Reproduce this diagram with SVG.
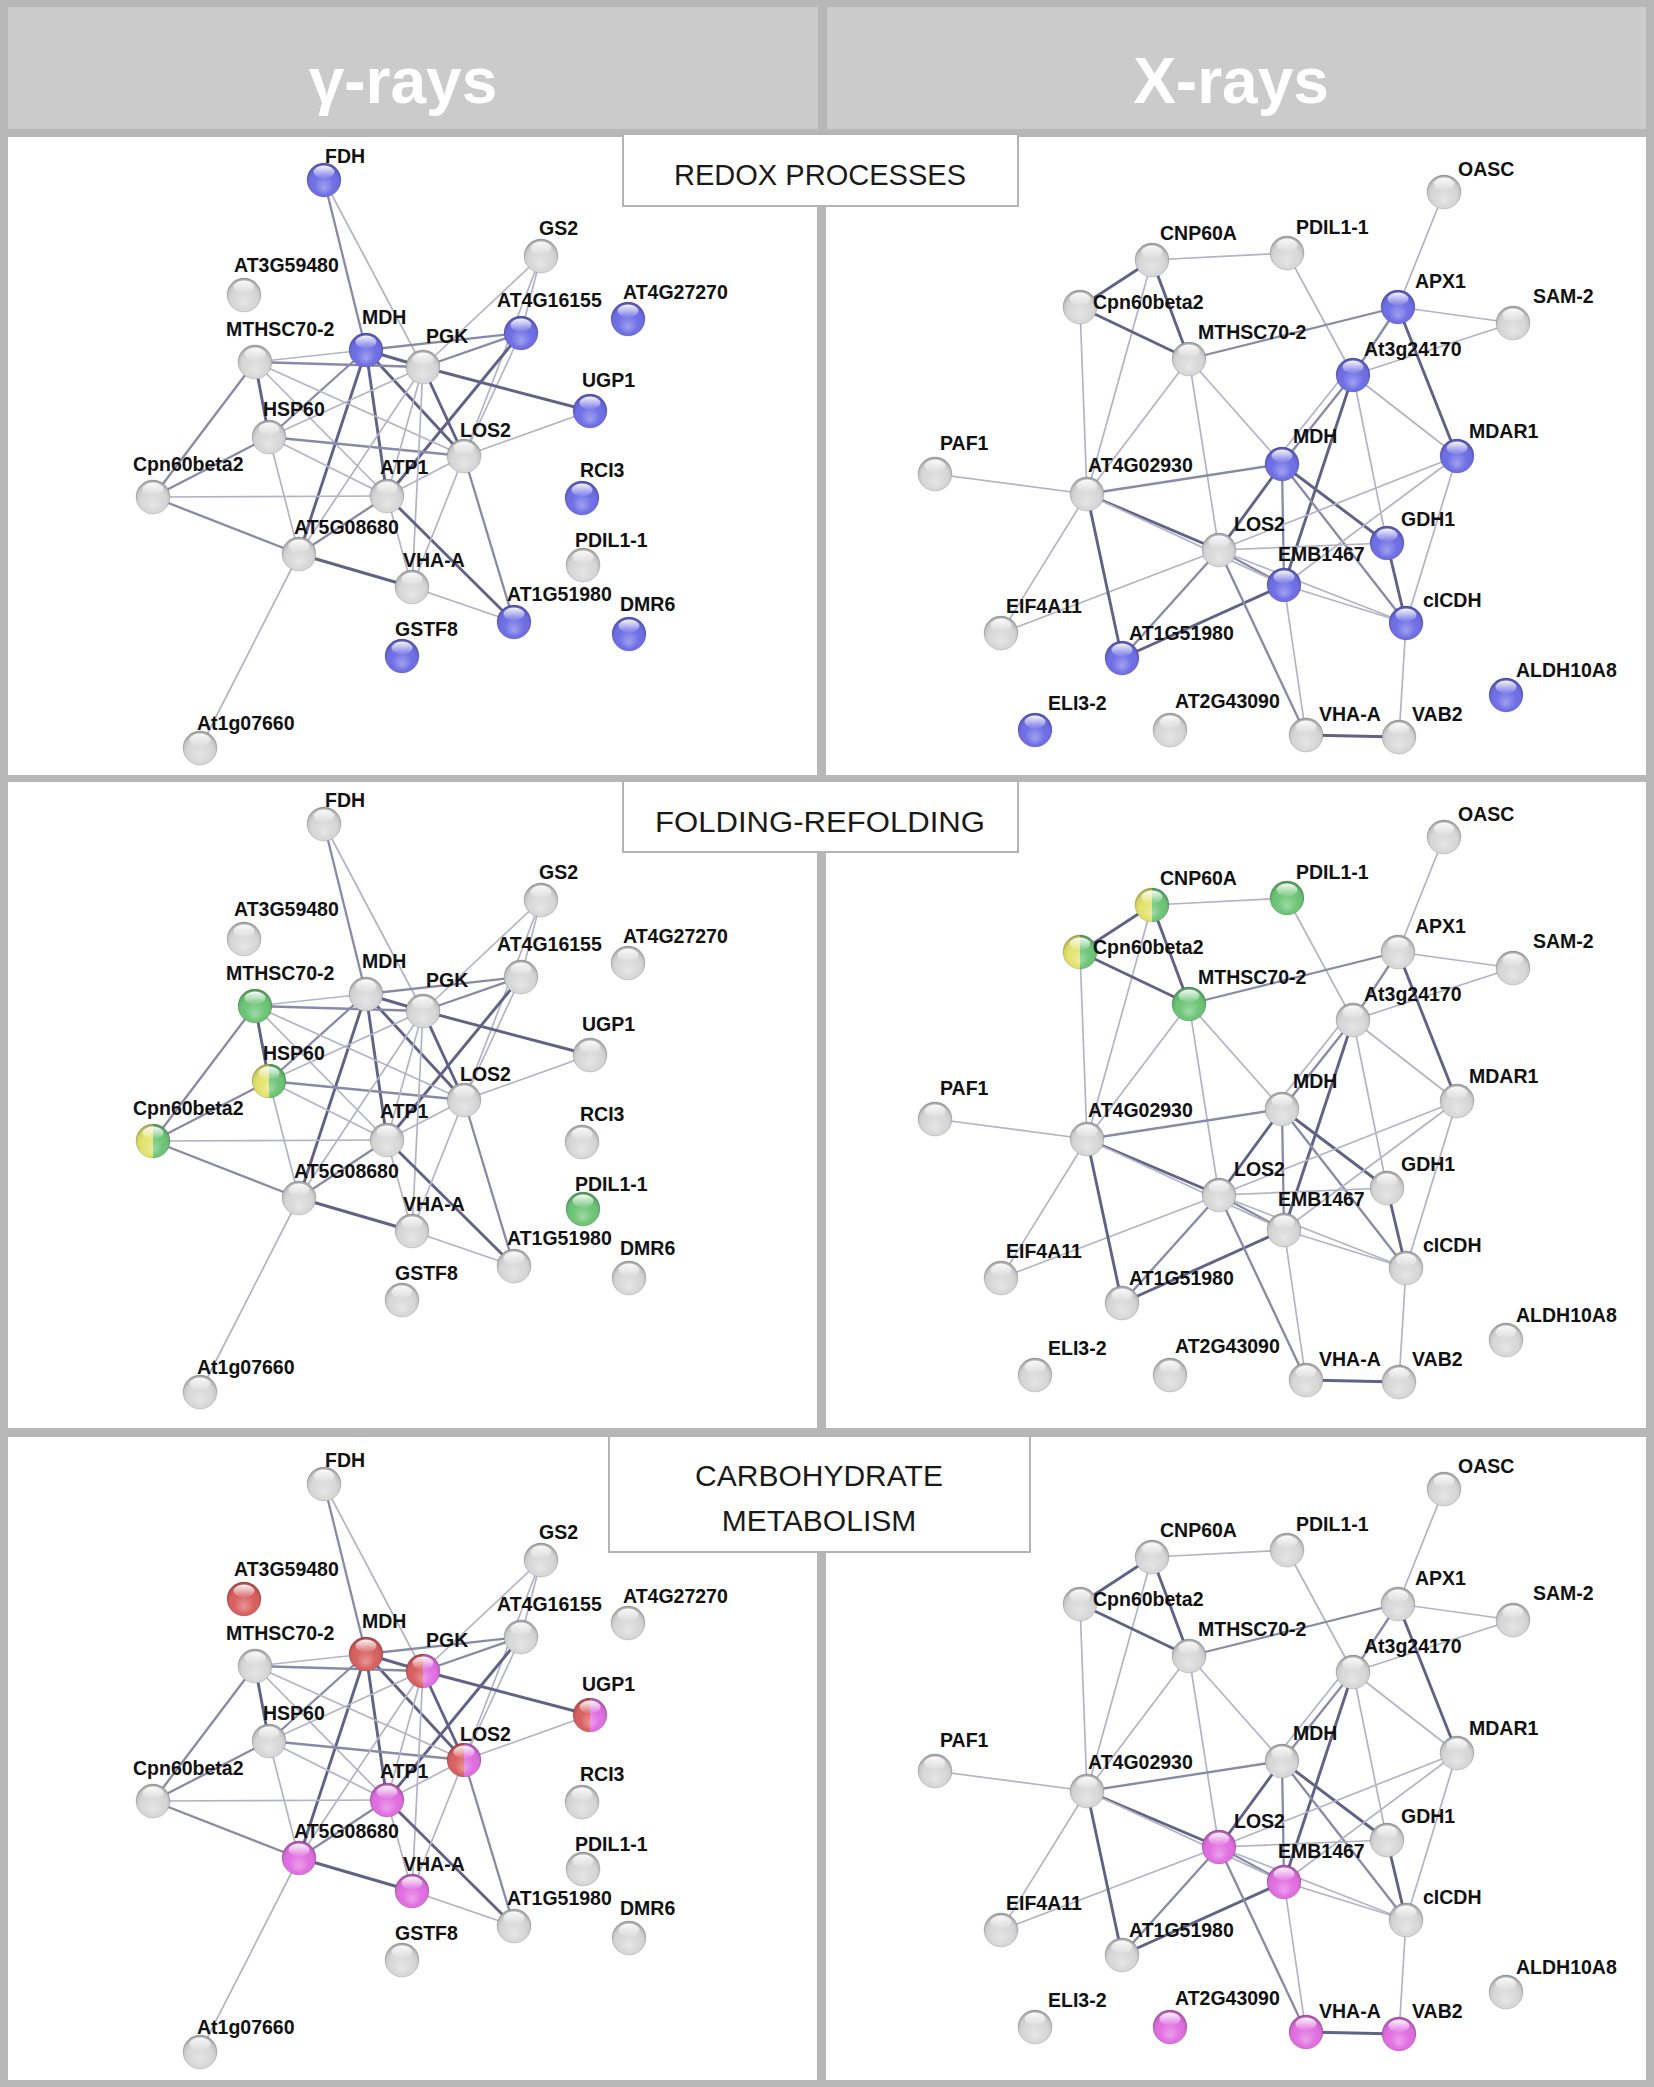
<svg xmlns="http://www.w3.org/2000/svg" xmlns:xlink="http://www.w3.org/1999/xlink" width="1654" height="2087" viewBox="0 0 1654 2087">
<style>
.hdr{font-family:"Liberation Sans",Arial,sans-serif;font-weight:bold;font-size:64px;fill:#ffffff;text-anchor:middle}
.box{fill:#ffffff;stroke:#b4b4b4;stroke-width:2}
.boxt{font-family:"Liberation Sans",Arial,sans-serif;font-size:30px;fill:#1a1a1a;text-anchor:middle}
.nodes text{font-family:"Liberation Sans",Arial,sans-serif;font-weight:bold;font-size:19.5px;fill:#111111}
.e1{stroke:#b3b3c7;stroke-width:1.7;stroke-linecap:round}
.e2{stroke:#8989a8;stroke-width:2.3;stroke-linecap:round}
.e3{stroke:#626287;stroke-width:2.9;stroke-linecap:round}
.cG{fill:#d8d8d8}.cB{fill:#6e6ee6}.cGr{fill:#6cc577}.cR{fill:#d95f5f}.cM{fill:#e16ee1}
.cYG{fill:url(#yg)}.cRM{fill:url(#rm)}
</style>
<defs>
<radialGradient id="shade" cx="0.5" cy="0.55" r="0.55" fx="0.5" fy="0.75">
<stop offset="0" stop-color="#ffffff" stop-opacity="0.35"/>
<stop offset="0.55" stop-color="#ffffff" stop-opacity="0"/>
<stop offset="0.85" stop-color="#000000" stop-opacity="0.08"/>
<stop offset="1" stop-color="#000000" stop-opacity="0.3"/>
</radialGradient>
<linearGradient id="gloss" x1="0" y1="0" x2="0" y2="1">
<stop offset="0" stop-color="#ffffff" stop-opacity="0.95"/>
<stop offset="1" stop-color="#ffffff" stop-opacity="0.05"/>
</linearGradient>
<linearGradient id="yg" x1="0" y1="0" x2="1" y2="0">
<stop offset="0" stop-color="#e3e36c"/><stop offset="0.5" stop-color="#e3e36c"/>
<stop offset="0.5" stop-color="#6cc577"/><stop offset="1" stop-color="#6cc577"/>
</linearGradient>
<linearGradient id="rm" x1="0" y1="0" x2="1" y2="0">
<stop offset="0" stop-color="#d95f5f"/><stop offset="0.5" stop-color="#d95f5f"/>
<stop offset="0.5" stop-color="#e16ee1"/><stop offset="1" stop-color="#e16ee1"/>
</linearGradient>
<g id="ball">
<circle r="17" fill="url(#shade)"/>
<ellipse cy="-8" rx="10.5" ry="6.5" fill="url(#gloss)"/>
<circle r="17" fill="none" stroke="#000000" stroke-opacity="0.12" stroke-width="1"/>
</g>
</defs>

<rect x="0" y="0" width="1654" height="2087" fill="#b7b7b7"/>
<g id="header">
<rect x="8" y="7" width="810" height="122" fill="#cbcbcb"/>
<rect x="827" y="7" width="819" height="122" fill="#cbcbcb"/>
<text class="hdr" x="403" y="103">γ-rays</text>
<text class="hdr" x="1231" y="103">X-rays</text>
</g>
<g id="panels">
<rect x="8" y="137" width="809" height="638" fill="#ffffff"/>
<rect x="826" y="137" width="820" height="638" fill="#ffffff"/>
<rect x="8" y="782" width="809" height="646" fill="#ffffff"/>
<rect x="826" y="782" width="820" height="646" fill="#ffffff"/>
<rect x="8" y="1437" width="809" height="643" fill="#ffffff"/>
<rect x="826" y="1437" width="820" height="643" fill="#ffffff"/>
</g>

<g id="connectors">
<g id="edges-gamma-redox">
<line class="e2" x1="324" y1="180" x2="366" y2="350"/>
<line class="e1" x1="324" y1="180" x2="423" y2="367"/>
<line class="e1" x1="541" y1="256" x2="423" y2="367"/>
<line class="e1" x1="541" y1="256" x2="521" y2="333"/>
<line class="e1" x1="541" y1="256" x2="464" y2="456"/>
<line class="e2" x1="521" y1="333" x2="366" y2="350"/>
<line class="e2" x1="521" y1="333" x2="423" y2="367"/>
<line class="e3" x1="521" y1="333" x2="387" y2="496"/>
<line class="e1" x1="521" y1="333" x2="464" y2="456"/>
<line class="e1" x1="366" y1="350" x2="255" y2="362"/>
<line class="e3" x1="366" y1="350" x2="423" y2="367"/>
<line class="e2" x1="366" y1="350" x2="269" y2="437"/>
<line class="e3" x1="366" y1="350" x2="387" y2="496"/>
<line class="e3" x1="366" y1="350" x2="299" y2="554"/>
<line class="e3" x1="366" y1="350" x2="464" y2="456"/>
<line class="e2" x1="255" y1="362" x2="423" y2="367"/>
<line class="e3" x1="255" y1="362" x2="269" y2="437"/>
<line class="e2" x1="255" y1="362" x2="153" y2="497"/>
<line class="e1" x1="255" y1="362" x2="387" y2="496"/>
<line class="e1" x1="255" y1="362" x2="464" y2="456"/>
<line class="e1" x1="269" y1="437" x2="423" y2="367"/>
<line class="e2" x1="269" y1="437" x2="464" y2="456"/>
<line class="e2" x1="269" y1="437" x2="153" y2="497"/>
<line class="e1" x1="269" y1="437" x2="299" y2="554"/>
<line class="e1" x1="269" y1="437" x2="387" y2="496"/>
<line class="e1" x1="153" y1="497" x2="387" y2="496"/>
<line class="e2" x1="153" y1="497" x2="299" y2="554"/>
<line class="e1" x1="423" y1="367" x2="387" y2="496"/>
<line class="e1" x1="423" y1="367" x2="299" y2="554"/>
<line class="e1" x1="423" y1="367" x2="412" y2="587"/>
<line class="e3" x1="423" y1="367" x2="464" y2="456"/>
<line class="e3" x1="423" y1="367" x2="590" y2="411"/>
<line class="e2" x1="387" y1="496" x2="299" y2="554"/>
<line class="e3" x1="387" y1="496" x2="514" y2="622"/>
<line class="e1" x1="387" y1="496" x2="464" y2="456"/>
<line class="e1" x1="387" y1="496" x2="412" y2="587"/>
<line class="e3" x1="299" y1="554" x2="412" y2="587"/>
<line class="e1" x1="299" y1="554" x2="200" y2="748"/>
<line class="e1" x1="412" y1="587" x2="464" y2="456"/>
<line class="e1" x1="412" y1="587" x2="514" y2="622"/>
<line class="e1" x1="464" y1="456" x2="590" y2="411"/>
<line class="e2" x1="464" y1="456" x2="514" y2="622"/>
</g>
<g id="edges-gamma-folding" transform="translate(0,644)">
<line class="e2" x1="324" y1="180" x2="366" y2="350"/>
<line class="e1" x1="324" y1="180" x2="423" y2="367"/>
<line class="e1" x1="541" y1="256" x2="423" y2="367"/>
<line class="e1" x1="541" y1="256" x2="521" y2="333"/>
<line class="e1" x1="541" y1="256" x2="464" y2="456"/>
<line class="e2" x1="521" y1="333" x2="366" y2="350"/>
<line class="e2" x1="521" y1="333" x2="423" y2="367"/>
<line class="e3" x1="521" y1="333" x2="387" y2="496"/>
<line class="e1" x1="521" y1="333" x2="464" y2="456"/>
<line class="e1" x1="366" y1="350" x2="255" y2="362"/>
<line class="e3" x1="366" y1="350" x2="423" y2="367"/>
<line class="e2" x1="366" y1="350" x2="269" y2="437"/>
<line class="e3" x1="366" y1="350" x2="387" y2="496"/>
<line class="e3" x1="366" y1="350" x2="299" y2="554"/>
<line class="e3" x1="366" y1="350" x2="464" y2="456"/>
<line class="e2" x1="255" y1="362" x2="423" y2="367"/>
<line class="e3" x1="255" y1="362" x2="269" y2="437"/>
<line class="e2" x1="255" y1="362" x2="153" y2="497"/>
<line class="e1" x1="255" y1="362" x2="387" y2="496"/>
<line class="e1" x1="255" y1="362" x2="464" y2="456"/>
<line class="e1" x1="269" y1="437" x2="423" y2="367"/>
<line class="e2" x1="269" y1="437" x2="464" y2="456"/>
<line class="e2" x1="269" y1="437" x2="153" y2="497"/>
<line class="e1" x1="269" y1="437" x2="299" y2="554"/>
<line class="e1" x1="269" y1="437" x2="387" y2="496"/>
<line class="e1" x1="153" y1="497" x2="387" y2="496"/>
<line class="e2" x1="153" y1="497" x2="299" y2="554"/>
<line class="e1" x1="423" y1="367" x2="387" y2="496"/>
<line class="e1" x1="423" y1="367" x2="299" y2="554"/>
<line class="e1" x1="423" y1="367" x2="412" y2="587"/>
<line class="e3" x1="423" y1="367" x2="464" y2="456"/>
<line class="e3" x1="423" y1="367" x2="590" y2="411"/>
<line class="e2" x1="387" y1="496" x2="299" y2="554"/>
<line class="e3" x1="387" y1="496" x2="514" y2="622"/>
<line class="e1" x1="387" y1="496" x2="464" y2="456"/>
<line class="e1" x1="387" y1="496" x2="412" y2="587"/>
<line class="e3" x1="299" y1="554" x2="412" y2="587"/>
<line class="e1" x1="299" y1="554" x2="200" y2="748"/>
<line class="e1" x1="412" y1="587" x2="464" y2="456"/>
<line class="e1" x1="412" y1="587" x2="514" y2="622"/>
<line class="e1" x1="464" y1="456" x2="590" y2="411"/>
<line class="e2" x1="464" y1="456" x2="514" y2="622"/>
</g>
<g id="edges-gamma-carbo" transform="translate(0,1304)">
<line class="e2" x1="324" y1="180" x2="366" y2="350"/>
<line class="e1" x1="324" y1="180" x2="423" y2="367"/>
<line class="e1" x1="541" y1="256" x2="423" y2="367"/>
<line class="e1" x1="541" y1="256" x2="521" y2="333"/>
<line class="e1" x1="541" y1="256" x2="464" y2="456"/>
<line class="e2" x1="521" y1="333" x2="366" y2="350"/>
<line class="e2" x1="521" y1="333" x2="423" y2="367"/>
<line class="e3" x1="521" y1="333" x2="387" y2="496"/>
<line class="e1" x1="521" y1="333" x2="464" y2="456"/>
<line class="e1" x1="366" y1="350" x2="255" y2="362"/>
<line class="e3" x1="366" y1="350" x2="423" y2="367"/>
<line class="e2" x1="366" y1="350" x2="269" y2="437"/>
<line class="e3" x1="366" y1="350" x2="387" y2="496"/>
<line class="e3" x1="366" y1="350" x2="299" y2="554"/>
<line class="e3" x1="366" y1="350" x2="464" y2="456"/>
<line class="e2" x1="255" y1="362" x2="423" y2="367"/>
<line class="e3" x1="255" y1="362" x2="269" y2="437"/>
<line class="e2" x1="255" y1="362" x2="153" y2="497"/>
<line class="e1" x1="255" y1="362" x2="387" y2="496"/>
<line class="e1" x1="255" y1="362" x2="464" y2="456"/>
<line class="e1" x1="269" y1="437" x2="423" y2="367"/>
<line class="e2" x1="269" y1="437" x2="464" y2="456"/>
<line class="e2" x1="269" y1="437" x2="153" y2="497"/>
<line class="e1" x1="269" y1="437" x2="299" y2="554"/>
<line class="e1" x1="269" y1="437" x2="387" y2="496"/>
<line class="e1" x1="153" y1="497" x2="387" y2="496"/>
<line class="e2" x1="153" y1="497" x2="299" y2="554"/>
<line class="e1" x1="423" y1="367" x2="387" y2="496"/>
<line class="e1" x1="423" y1="367" x2="299" y2="554"/>
<line class="e1" x1="423" y1="367" x2="412" y2="587"/>
<line class="e3" x1="423" y1="367" x2="464" y2="456"/>
<line class="e3" x1="423" y1="367" x2="590" y2="411"/>
<line class="e2" x1="387" y1="496" x2="299" y2="554"/>
<line class="e3" x1="387" y1="496" x2="514" y2="622"/>
<line class="e1" x1="387" y1="496" x2="464" y2="456"/>
<line class="e1" x1="387" y1="496" x2="412" y2="587"/>
<line class="e3" x1="299" y1="554" x2="412" y2="587"/>
<line class="e1" x1="299" y1="554" x2="200" y2="748"/>
<line class="e1" x1="412" y1="587" x2="464" y2="456"/>
<line class="e1" x1="412" y1="587" x2="514" y2="622"/>
<line class="e1" x1="464" y1="456" x2="590" y2="411"/>
<line class="e2" x1="464" y1="456" x2="514" y2="622"/>
</g>
<g id="edges-x-redox">
<line class="e1" x1="1444" y1="192" x2="1398" y2="307"/>
<line class="e1" x1="1152" y1="260" x2="1287" y2="253"/>
<line class="e3" x1="1152" y1="260" x2="1080" y2="307"/>
<line class="e3" x1="1152" y1="260" x2="1189" y2="359"/>
<line class="e1" x1="1152" y1="260" x2="1087" y2="494"/>
<line class="e3" x1="1080" y1="307" x2="1189" y2="359"/>
<line class="e1" x1="1080" y1="307" x2="1087" y2="494"/>
<line class="e1" x1="1287" y1="253" x2="1353" y2="375"/>
<line class="e2" x1="1189" y1="359" x2="1398" y2="307"/>
<line class="e1" x1="1189" y1="359" x2="1087" y2="494"/>
<line class="e1" x1="1189" y1="359" x2="1219" y2="550"/>
<line class="e1" x1="1189" y1="359" x2="1282" y2="464"/>
<line class="e1" x1="1398" y1="307" x2="1513" y2="323"/>
<line class="e2" x1="1398" y1="307" x2="1353" y2="375"/>
<line class="e3" x1="1398" y1="307" x2="1457" y2="456"/>
<line class="e1" x1="1513" y1="323" x2="1353" y2="375"/>
<line class="e2" x1="1353" y1="375" x2="1282" y2="464"/>
<line class="e1" x1="1347" y1="371" x2="1276" y2="460"/>
<line class="e3" x1="1353" y1="375" x2="1284" y2="585"/>
<line class="e1" x1="1353" y1="375" x2="1387" y2="543"/>
<line class="e1" x1="1353" y1="375" x2="1457" y2="456"/>
<line class="e2" x1="1282" y1="464" x2="1087" y2="494"/>
<line class="e3" x1="1282" y1="464" x2="1219" y2="550"/>
<line class="e2" x1="1282" y1="464" x2="1284" y2="585"/>
<line class="e3" x1="1282" y1="464" x2="1387" y2="543"/>
<line class="e2" x1="1282" y1="464" x2="1406" y2="623"/>
<line class="e1" x1="1457" y1="456" x2="1219" y2="550"/>
<line class="e1" x1="1457" y1="456" x2="1284" y2="585"/>
<line class="e1" x1="1457" y1="456" x2="1406" y2="623"/>
<line class="e3" x1="1387" y1="543" x2="1406" y2="623"/>
<line class="e1" x1="1387" y1="543" x2="1219" y2="550"/>
<line class="e2" x1="1284" y1="585" x2="1219" y2="550"/>
<line class="e1" x1="1284" y1="585" x2="1406" y2="623"/>
<line class="e3" x1="1284" y1="585" x2="1122" y2="658"/>
<line class="e1" x1="1284" y1="585" x2="1306" y2="735"/>
<line class="e1" x1="1219" y1="550" x2="1406" y2="623"/>
<line class="e3" x1="1219" y1="550" x2="1087" y2="494"/>
<line class="e2" x1="1219" y1="550" x2="1122" y2="658"/>
<line class="e1" x1="1219" y1="550" x2="1001" y2="633"/>
<line class="e2" x1="1219" y1="550" x2="1306" y2="735"/>
<line class="e1" x1="1087" y1="494" x2="935" y2="474"/>
<line class="e1" x1="1087" y1="494" x2="1001" y2="633"/>
<line class="e3" x1="1087" y1="494" x2="1122" y2="658"/>
<line class="e1" x1="1087" y1="494" x2="1284" y2="585"/>
<line class="e1" x1="1406" y1="623" x2="1399" y2="737"/>
<line class="e3" x1="1306" y1="735" x2="1399" y2="737"/>
</g>
<g id="edges-x-folding" transform="translate(0,645)">
<line class="e1" x1="1444" y1="192" x2="1398" y2="307"/>
<line class="e1" x1="1152" y1="260" x2="1287" y2="253"/>
<line class="e3" x1="1152" y1="260" x2="1080" y2="307"/>
<line class="e3" x1="1152" y1="260" x2="1189" y2="359"/>
<line class="e1" x1="1152" y1="260" x2="1087" y2="494"/>
<line class="e3" x1="1080" y1="307" x2="1189" y2="359"/>
<line class="e1" x1="1080" y1="307" x2="1087" y2="494"/>
<line class="e1" x1="1287" y1="253" x2="1353" y2="375"/>
<line class="e2" x1="1189" y1="359" x2="1398" y2="307"/>
<line class="e1" x1="1189" y1="359" x2="1087" y2="494"/>
<line class="e1" x1="1189" y1="359" x2="1219" y2="550"/>
<line class="e1" x1="1189" y1="359" x2="1282" y2="464"/>
<line class="e1" x1="1398" y1="307" x2="1513" y2="323"/>
<line class="e2" x1="1398" y1="307" x2="1353" y2="375"/>
<line class="e3" x1="1398" y1="307" x2="1457" y2="456"/>
<line class="e1" x1="1513" y1="323" x2="1353" y2="375"/>
<line class="e2" x1="1353" y1="375" x2="1282" y2="464"/>
<line class="e1" x1="1347" y1="371" x2="1276" y2="460"/>
<line class="e3" x1="1353" y1="375" x2="1284" y2="585"/>
<line class="e1" x1="1353" y1="375" x2="1387" y2="543"/>
<line class="e1" x1="1353" y1="375" x2="1457" y2="456"/>
<line class="e2" x1="1282" y1="464" x2="1087" y2="494"/>
<line class="e3" x1="1282" y1="464" x2="1219" y2="550"/>
<line class="e2" x1="1282" y1="464" x2="1284" y2="585"/>
<line class="e3" x1="1282" y1="464" x2="1387" y2="543"/>
<line class="e2" x1="1282" y1="464" x2="1406" y2="623"/>
<line class="e1" x1="1457" y1="456" x2="1219" y2="550"/>
<line class="e1" x1="1457" y1="456" x2="1284" y2="585"/>
<line class="e1" x1="1457" y1="456" x2="1406" y2="623"/>
<line class="e3" x1="1387" y1="543" x2="1406" y2="623"/>
<line class="e1" x1="1387" y1="543" x2="1219" y2="550"/>
<line class="e2" x1="1284" y1="585" x2="1219" y2="550"/>
<line class="e1" x1="1284" y1="585" x2="1406" y2="623"/>
<line class="e3" x1="1284" y1="585" x2="1122" y2="658"/>
<line class="e1" x1="1284" y1="585" x2="1306" y2="735"/>
<line class="e1" x1="1219" y1="550" x2="1406" y2="623"/>
<line class="e3" x1="1219" y1="550" x2="1087" y2="494"/>
<line class="e2" x1="1219" y1="550" x2="1122" y2="658"/>
<line class="e1" x1="1219" y1="550" x2="1001" y2="633"/>
<line class="e2" x1="1219" y1="550" x2="1306" y2="735"/>
<line class="e1" x1="1087" y1="494" x2="935" y2="474"/>
<line class="e1" x1="1087" y1="494" x2="1001" y2="633"/>
<line class="e3" x1="1087" y1="494" x2="1122" y2="658"/>
<line class="e1" x1="1087" y1="494" x2="1284" y2="585"/>
<line class="e1" x1="1406" y1="623" x2="1399" y2="737"/>
<line class="e3" x1="1306" y1="735" x2="1399" y2="737"/>
</g>
<g id="edges-x-carbo" transform="translate(0,1297)">
<line class="e1" x1="1444" y1="192" x2="1398" y2="307"/>
<line class="e1" x1="1152" y1="260" x2="1287" y2="253"/>
<line class="e3" x1="1152" y1="260" x2="1080" y2="307"/>
<line class="e3" x1="1152" y1="260" x2="1189" y2="359"/>
<line class="e1" x1="1152" y1="260" x2="1087" y2="494"/>
<line class="e3" x1="1080" y1="307" x2="1189" y2="359"/>
<line class="e1" x1="1080" y1="307" x2="1087" y2="494"/>
<line class="e1" x1="1287" y1="253" x2="1353" y2="375"/>
<line class="e2" x1="1189" y1="359" x2="1398" y2="307"/>
<line class="e1" x1="1189" y1="359" x2="1087" y2="494"/>
<line class="e1" x1="1189" y1="359" x2="1219" y2="550"/>
<line class="e1" x1="1189" y1="359" x2="1282" y2="464"/>
<line class="e1" x1="1398" y1="307" x2="1513" y2="323"/>
<line class="e2" x1="1398" y1="307" x2="1353" y2="375"/>
<line class="e3" x1="1398" y1="307" x2="1457" y2="456"/>
<line class="e1" x1="1513" y1="323" x2="1353" y2="375"/>
<line class="e2" x1="1353" y1="375" x2="1282" y2="464"/>
<line class="e1" x1="1347" y1="371" x2="1276" y2="460"/>
<line class="e3" x1="1353" y1="375" x2="1284" y2="585"/>
<line class="e1" x1="1353" y1="375" x2="1387" y2="543"/>
<line class="e1" x1="1353" y1="375" x2="1457" y2="456"/>
<line class="e2" x1="1282" y1="464" x2="1087" y2="494"/>
<line class="e3" x1="1282" y1="464" x2="1219" y2="550"/>
<line class="e2" x1="1282" y1="464" x2="1284" y2="585"/>
<line class="e3" x1="1282" y1="464" x2="1387" y2="543"/>
<line class="e2" x1="1282" y1="464" x2="1406" y2="623"/>
<line class="e1" x1="1457" y1="456" x2="1219" y2="550"/>
<line class="e1" x1="1457" y1="456" x2="1284" y2="585"/>
<line class="e1" x1="1457" y1="456" x2="1406" y2="623"/>
<line class="e3" x1="1387" y1="543" x2="1406" y2="623"/>
<line class="e1" x1="1387" y1="543" x2="1219" y2="550"/>
<line class="e2" x1="1284" y1="585" x2="1219" y2="550"/>
<line class="e1" x1="1284" y1="585" x2="1406" y2="623"/>
<line class="e3" x1="1284" y1="585" x2="1122" y2="658"/>
<line class="e1" x1="1284" y1="585" x2="1306" y2="735"/>
<line class="e1" x1="1219" y1="550" x2="1406" y2="623"/>
<line class="e3" x1="1219" y1="550" x2="1087" y2="494"/>
<line class="e2" x1="1219" y1="550" x2="1122" y2="658"/>
<line class="e1" x1="1219" y1="550" x2="1001" y2="633"/>
<line class="e2" x1="1219" y1="550" x2="1306" y2="735"/>
<line class="e1" x1="1087" y1="494" x2="935" y2="474"/>
<line class="e1" x1="1087" y1="494" x2="1001" y2="633"/>
<line class="e3" x1="1087" y1="494" x2="1122" y2="658"/>
<line class="e1" x1="1087" y1="494" x2="1284" y2="585"/>
<line class="e1" x1="1406" y1="623" x2="1399" y2="737"/>
<line class="e3" x1="1306" y1="735" x2="1399" y2="737"/>
</g>
</g>

<g id="nodes-gamma-redox" class="nodes">
<g id="gR-FDH"><circle cx="324" cy="180" r="17" class="cB"/><use href="#ball" x="324" y="180"/><text x="325" y="163">FDH</text></g>
<g id="gR-AT3G59480"><circle cx="244" cy="295" r="17" class="cG"/><use href="#ball" x="244" y="295"/><text x="234" y="272">AT3G59480</text></g>
<g id="gR-GS2"><circle cx="541" cy="256" r="17" class="cG"/><use href="#ball" x="541" y="256"/><text x="539" y="235">GS2</text></g>
<g id="gR-AT4G27270"><circle cx="628" cy="319" r="17" class="cB"/><use href="#ball" x="628" y="319"/><text x="623" y="299">AT4G27270</text></g>
<g id="gR-AT4G16155"><circle cx="521" cy="333" r="17" class="cB"/><use href="#ball" x="521" y="333"/><text x="497" y="307">AT4G16155</text></g>
<g id="gR-MDH"><circle cx="366" cy="350" r="17" class="cB"/><use href="#ball" x="366" y="350"/><text x="362" y="324">MDH</text></g>
<g id="gR-MTHSC70-2"><circle cx="255" cy="362" r="17" class="cG"/><use href="#ball" x="255" y="362"/><text x="226" y="336">MTHSC70-2</text></g>
<g id="gR-PGK"><circle cx="423" cy="367" r="17" class="cG"/><use href="#ball" x="423" y="367"/><text x="426" y="343">PGK</text></g>
<g id="gR-UGP1"><circle cx="590" cy="411" r="17" class="cB"/><use href="#ball" x="590" y="411"/><text x="582" y="387">UGP1</text></g>
<g id="gR-HSP60"><circle cx="269" cy="437" r="17" class="cG"/><use href="#ball" x="269" y="437"/><text x="263" y="416">HSP60</text></g>
<g id="gR-LOS2"><circle cx="464" cy="456" r="17" class="cG"/><use href="#ball" x="464" y="456"/><text x="460" y="437">LOS2</text></g>
<g id="gR-RCI3"><circle cx="582" cy="498" r="17" class="cB"/><use href="#ball" x="582" y="498"/><text x="580" y="477">RCI3</text></g>
<g id="gR-Cpn60beta2"><circle cx="153" cy="497" r="17" class="cG"/><use href="#ball" x="153" y="497"/><text x="133" y="471">Cpn60beta2</text></g>
<g id="gR-ATP1"><circle cx="387" cy="496" r="17" class="cG"/><use href="#ball" x="387" y="496"/><text x="380" y="474">ATP1</text></g>
<g id="gR-AT5G08680"><circle cx="299" cy="554" r="17" class="cG"/><use href="#ball" x="299" y="554"/><text x="294" y="534">AT5G08680</text></g>
<g id="gR-PDIL1-1"><circle cx="583" cy="565" r="17" class="cG"/><use href="#ball" x="583" y="565"/><text x="575" y="547">PDIL1-1</text></g>
<g id="gR-VHA-A"><circle cx="412" cy="587" r="17" class="cG"/><use href="#ball" x="412" y="587"/><text x="403" y="567">VHA-A</text></g>
<g id="gR-AT1G51980"><circle cx="514" cy="622" r="17" class="cB"/><use href="#ball" x="514" y="622"/><text x="507" y="601">AT1G51980</text></g>
<g id="gR-DMR6"><circle cx="629" cy="634" r="17" class="cB"/><use href="#ball" x="629" y="634"/><text x="620" y="611">DMR6</text></g>
<g id="gR-GSTF8"><circle cx="402" cy="656" r="17" class="cB"/><use href="#ball" x="402" y="656"/><text x="395" y="636">GSTF8</text></g>
<g id="gR-At1g07660"><circle cx="200" cy="748" r="17" class="cG"/><use href="#ball" x="200" y="748"/><text x="197" y="730">At1g07660</text></g>
</g>

<g id="nodes-gamma-folding" class="nodes" transform="translate(0,644)">
<g id="gF-FDH"><circle cx="324" cy="180" r="17" class="cG"/><use href="#ball" x="324" y="180"/><text x="325" y="163">FDH</text></g>
<g id="gF-AT3G59480"><circle cx="244" cy="295" r="17" class="cG"/><use href="#ball" x="244" y="295"/><text x="234" y="272">AT3G59480</text></g>
<g id="gF-GS2"><circle cx="541" cy="256" r="17" class="cG"/><use href="#ball" x="541" y="256"/><text x="539" y="235">GS2</text></g>
<g id="gF-AT4G27270"><circle cx="628" cy="319" r="17" class="cG"/><use href="#ball" x="628" y="319"/><text x="623" y="299">AT4G27270</text></g>
<g id="gF-AT4G16155"><circle cx="521" cy="333" r="17" class="cG"/><use href="#ball" x="521" y="333"/><text x="497" y="307">AT4G16155</text></g>
<g id="gF-MDH"><circle cx="366" cy="350" r="17" class="cG"/><use href="#ball" x="366" y="350"/><text x="362" y="324">MDH</text></g>
<g id="gF-MTHSC70-2"><circle cx="255" cy="362" r="17" class="cGr"/><use href="#ball" x="255" y="362"/><text x="226" y="336">MTHSC70-2</text></g>
<g id="gF-PGK"><circle cx="423" cy="367" r="17" class="cG"/><use href="#ball" x="423" y="367"/><text x="426" y="343">PGK</text></g>
<g id="gF-UGP1"><circle cx="590" cy="411" r="17" class="cG"/><use href="#ball" x="590" y="411"/><text x="582" y="387">UGP1</text></g>
<g id="gF-HSP60"><circle cx="269" cy="437" r="17" class="cYG"/><use href="#ball" x="269" y="437"/><text x="263" y="416">HSP60</text></g>
<g id="gF-LOS2"><circle cx="464" cy="456" r="17" class="cG"/><use href="#ball" x="464" y="456"/><text x="460" y="437">LOS2</text></g>
<g id="gF-RCI3"><circle cx="582" cy="498" r="17" class="cG"/><use href="#ball" x="582" y="498"/><text x="580" y="477">RCI3</text></g>
<g id="gF-Cpn60beta2"><circle cx="153" cy="497" r="17" class="cYG"/><use href="#ball" x="153" y="497"/><text x="133" y="471">Cpn60beta2</text></g>
<g id="gF-ATP1"><circle cx="387" cy="496" r="17" class="cG"/><use href="#ball" x="387" y="496"/><text x="380" y="474">ATP1</text></g>
<g id="gF-AT5G08680"><circle cx="299" cy="554" r="17" class="cG"/><use href="#ball" x="299" y="554"/><text x="294" y="534">AT5G08680</text></g>
<g id="gF-PDIL1-1"><circle cx="583" cy="565" r="17" class="cGr"/><use href="#ball" x="583" y="565"/><text x="575" y="547">PDIL1-1</text></g>
<g id="gF-VHA-A"><circle cx="412" cy="587" r="17" class="cG"/><use href="#ball" x="412" y="587"/><text x="403" y="567">VHA-A</text></g>
<g id="gF-AT1G51980"><circle cx="514" cy="622" r="17" class="cG"/><use href="#ball" x="514" y="622"/><text x="507" y="601">AT1G51980</text></g>
<g id="gF-DMR6"><circle cx="629" cy="634" r="17" class="cG"/><use href="#ball" x="629" y="634"/><text x="620" y="611">DMR6</text></g>
<g id="gF-GSTF8"><circle cx="402" cy="656" r="17" class="cG"/><use href="#ball" x="402" y="656"/><text x="395" y="636">GSTF8</text></g>
<g id="gF-At1g07660"><circle cx="200" cy="748" r="17" class="cG"/><use href="#ball" x="200" y="748"/><text x="197" y="730">At1g07660</text></g>
</g>

<g id="nodes-gamma-carbo" class="nodes" transform="translate(0,1304)">
<g id="gC-FDH"><circle cx="324" cy="180" r="17" class="cG"/><use href="#ball" x="324" y="180"/><text x="325" y="163">FDH</text></g>
<g id="gC-AT3G59480"><circle cx="244" cy="295" r="17" class="cR"/><use href="#ball" x="244" y="295"/><text x="234" y="272">AT3G59480</text></g>
<g id="gC-GS2"><circle cx="541" cy="256" r="17" class="cG"/><use href="#ball" x="541" y="256"/><text x="539" y="235">GS2</text></g>
<g id="gC-AT4G27270"><circle cx="628" cy="319" r="17" class="cG"/><use href="#ball" x="628" y="319"/><text x="623" y="299">AT4G27270</text></g>
<g id="gC-AT4G16155"><circle cx="521" cy="333" r="17" class="cG"/><use href="#ball" x="521" y="333"/><text x="497" y="307">AT4G16155</text></g>
<g id="gC-MDH"><circle cx="366" cy="350" r="17" class="cR"/><use href="#ball" x="366" y="350"/><text x="362" y="324">MDH</text></g>
<g id="gC-MTHSC70-2"><circle cx="255" cy="362" r="17" class="cG"/><use href="#ball" x="255" y="362"/><text x="226" y="336">MTHSC70-2</text></g>
<g id="gC-PGK"><circle cx="423" cy="367" r="17" class="cRM"/><use href="#ball" x="423" y="367"/><text x="426" y="343">PGK</text></g>
<g id="gC-UGP1"><circle cx="590" cy="411" r="17" class="cRM"/><use href="#ball" x="590" y="411"/><text x="582" y="387">UGP1</text></g>
<g id="gC-HSP60"><circle cx="269" cy="437" r="17" class="cG"/><use href="#ball" x="269" y="437"/><text x="263" y="416">HSP60</text></g>
<g id="gC-LOS2"><circle cx="464" cy="456" r="17" class="cRM"/><use href="#ball" x="464" y="456"/><text x="460" y="437">LOS2</text></g>
<g id="gC-RCI3"><circle cx="582" cy="498" r="17" class="cG"/><use href="#ball" x="582" y="498"/><text x="580" y="477">RCI3</text></g>
<g id="gC-Cpn60beta2"><circle cx="153" cy="497" r="17" class="cG"/><use href="#ball" x="153" y="497"/><text x="133" y="471">Cpn60beta2</text></g>
<g id="gC-ATP1"><circle cx="387" cy="496" r="17" class="cM"/><use href="#ball" x="387" y="496"/><text x="380" y="474">ATP1</text></g>
<g id="gC-AT5G08680"><circle cx="299" cy="554" r="17" class="cM"/><use href="#ball" x="299" y="554"/><text x="294" y="534">AT5G08680</text></g>
<g id="gC-PDIL1-1"><circle cx="583" cy="565" r="17" class="cG"/><use href="#ball" x="583" y="565"/><text x="575" y="547">PDIL1-1</text></g>
<g id="gC-VHA-A"><circle cx="412" cy="587" r="17" class="cM"/><use href="#ball" x="412" y="587"/><text x="403" y="567">VHA-A</text></g>
<g id="gC-AT1G51980"><circle cx="514" cy="622" r="17" class="cG"/><use href="#ball" x="514" y="622"/><text x="507" y="601">AT1G51980</text></g>
<g id="gC-DMR6"><circle cx="629" cy="634" r="17" class="cG"/><use href="#ball" x="629" y="634"/><text x="620" y="611">DMR6</text></g>
<g id="gC-GSTF8"><circle cx="402" cy="656" r="17" class="cG"/><use href="#ball" x="402" y="656"/><text x="395" y="636">GSTF8</text></g>
<g id="gC-At1g07660"><circle cx="200" cy="748" r="17" class="cG"/><use href="#ball" x="200" y="748"/><text x="197" y="730">At1g07660</text></g>
</g>

<g id="nodes-x-redox" class="nodes">
<g id="xR-OASC"><circle cx="1444" cy="192" r="17" class="cG"/><use href="#ball" x="1444" y="192"/><text x="1458" y="176">OASC</text></g>
<g id="xR-CNP60A"><circle cx="1152" cy="260" r="17" class="cG"/><use href="#ball" x="1152" y="260"/><text x="1160" y="240">CNP60A</text></g>
<g id="xR-PDIL1-1"><circle cx="1287" cy="253" r="17" class="cG"/><use href="#ball" x="1287" y="253"/><text x="1296" y="234">PDIL1-1</text></g>
<g id="xR-Cpn60beta2"><circle cx="1080" cy="307" r="17" class="cG"/><use href="#ball" x="1080" y="307"/><text x="1093" y="309">Cpn60beta2</text></g>
<g id="xR-APX1"><circle cx="1398" cy="307" r="17" class="cB"/><use href="#ball" x="1398" y="307"/><text x="1415" y="288">APX1</text></g>
<g id="xR-SAM-2"><circle cx="1513" cy="323" r="17" class="cG"/><use href="#ball" x="1513" y="323"/><text x="1533" y="303">SAM-2</text></g>
<g id="xR-MTHSC70-2"><circle cx="1189" cy="359" r="17" class="cG"/><use href="#ball" x="1189" y="359"/><text x="1198" y="339">MTHSC70-2</text></g>
<g id="xR-At3g24170"><circle cx="1353" cy="375" r="17" class="cB"/><use href="#ball" x="1353" y="375"/><text x="1364" y="356">At3g24170</text></g>
<g id="xR-PAF1"><circle cx="935" cy="474" r="17" class="cG"/><use href="#ball" x="935" y="474"/><text x="940" y="450">PAF1</text></g>
<g id="xR-MDH"><circle cx="1282" cy="464" r="17" class="cB"/><use href="#ball" x="1282" y="464"/><text x="1293" y="443">MDH</text></g>
<g id="xR-MDAR1"><circle cx="1457" cy="456" r="17" class="cB"/><use href="#ball" x="1457" y="456"/><text x="1469" y="438">MDAR1</text></g>
<g id="xR-AT4G02930"><circle cx="1087" cy="494" r="17" class="cG"/><use href="#ball" x="1087" y="494"/><text x="1088" y="472">AT4G02930</text></g>
<g id="xR-LOS2"><circle cx="1219" cy="550" r="17" class="cG"/><use href="#ball" x="1219" y="550"/><text x="1234" y="531">LOS2</text></g>
<g id="xR-GDH1"><circle cx="1387" cy="543" r="17" class="cB"/><use href="#ball" x="1387" y="543"/><text x="1401" y="526">GDH1</text></g>
<g id="xR-EMB1467"><circle cx="1284" cy="585" r="17" class="cB"/><use href="#ball" x="1284" y="585"/><text x="1278" y="561">EMB1467</text></g>
<g id="xR-cICDH"><circle cx="1406" cy="623" r="17" class="cB"/><use href="#ball" x="1406" y="623"/><text x="1423" y="607">cICDH</text></g>
<g id="xR-EIF4A11"><circle cx="1001" cy="633" r="17" class="cG"/><use href="#ball" x="1001" y="633"/><text x="1006" y="613">EIF4A11</text></g>
<g id="xR-AT1G51980"><circle cx="1122" cy="658" r="17" class="cB"/><use href="#ball" x="1122" y="658"/><text x="1129" y="640">AT1G51980</text></g>
<g id="xR-ALDH10A8"><circle cx="1506" cy="695" r="17" class="cB"/><use href="#ball" x="1506" y="695"/><text x="1516" y="677">ALDH10A8</text></g>
<g id="xR-ELI3-2"><circle cx="1035" cy="730" r="17" class="cB"/><use href="#ball" x="1035" y="730"/><text x="1048" y="710">ELI3-2</text></g>
<g id="xR-AT2G43090"><circle cx="1170" cy="730" r="17" class="cG"/><use href="#ball" x="1170" y="730"/><text x="1175" y="708">AT2G43090</text></g>
<g id="xR-VHA-A"><circle cx="1306" cy="735" r="17" class="cG"/><use href="#ball" x="1306" y="735"/><text x="1319" y="721">VHA-A</text></g>
<g id="xR-VAB2"><circle cx="1399" cy="737" r="17" class="cG"/><use href="#ball" x="1399" y="737"/><text x="1412" y="721">VAB2</text></g>
</g>

<g id="nodes-x-folding" class="nodes" transform="translate(0,645)">
<g id="xF-OASC"><circle cx="1444" cy="192" r="17" class="cG"/><use href="#ball" x="1444" y="192"/><text x="1458" y="176">OASC</text></g>
<g id="xF-CNP60A"><circle cx="1152" cy="260" r="17" class="cYG"/><use href="#ball" x="1152" y="260"/><text x="1160" y="240">CNP60A</text></g>
<g id="xF-PDIL1-1"><circle cx="1287" cy="253" r="17" class="cGr"/><use href="#ball" x="1287" y="253"/><text x="1296" y="234">PDIL1-1</text></g>
<g id="xF-Cpn60beta2"><circle cx="1080" cy="307" r="17" class="cYG"/><use href="#ball" x="1080" y="307"/><text x="1093" y="309">Cpn60beta2</text></g>
<g id="xF-APX1"><circle cx="1398" cy="307" r="17" class="cG"/><use href="#ball" x="1398" y="307"/><text x="1415" y="288">APX1</text></g>
<g id="xF-SAM-2"><circle cx="1513" cy="323" r="17" class="cG"/><use href="#ball" x="1513" y="323"/><text x="1533" y="303">SAM-2</text></g>
<g id="xF-MTHSC70-2"><circle cx="1189" cy="359" r="17" class="cGr"/><use href="#ball" x="1189" y="359"/><text x="1198" y="339">MTHSC70-2</text></g>
<g id="xF-At3g24170"><circle cx="1353" cy="375" r="17" class="cG"/><use href="#ball" x="1353" y="375"/><text x="1364" y="356">At3g24170</text></g>
<g id="xF-PAF1"><circle cx="935" cy="474" r="17" class="cG"/><use href="#ball" x="935" y="474"/><text x="940" y="450">PAF1</text></g>
<g id="xF-MDH"><circle cx="1282" cy="464" r="17" class="cG"/><use href="#ball" x="1282" y="464"/><text x="1293" y="443">MDH</text></g>
<g id="xF-MDAR1"><circle cx="1457" cy="456" r="17" class="cG"/><use href="#ball" x="1457" y="456"/><text x="1469" y="438">MDAR1</text></g>
<g id="xF-AT4G02930"><circle cx="1087" cy="494" r="17" class="cG"/><use href="#ball" x="1087" y="494"/><text x="1088" y="472">AT4G02930</text></g>
<g id="xF-LOS2"><circle cx="1219" cy="550" r="17" class="cG"/><use href="#ball" x="1219" y="550"/><text x="1234" y="531">LOS2</text></g>
<g id="xF-GDH1"><circle cx="1387" cy="543" r="17" class="cG"/><use href="#ball" x="1387" y="543"/><text x="1401" y="526">GDH1</text></g>
<g id="xF-EMB1467"><circle cx="1284" cy="585" r="17" class="cG"/><use href="#ball" x="1284" y="585"/><text x="1278" y="561">EMB1467</text></g>
<g id="xF-cICDH"><circle cx="1406" cy="623" r="17" class="cG"/><use href="#ball" x="1406" y="623"/><text x="1423" y="607">cICDH</text></g>
<g id="xF-EIF4A11"><circle cx="1001" cy="633" r="17" class="cG"/><use href="#ball" x="1001" y="633"/><text x="1006" y="613">EIF4A11</text></g>
<g id="xF-AT1G51980"><circle cx="1122" cy="658" r="17" class="cG"/><use href="#ball" x="1122" y="658"/><text x="1129" y="640">AT1G51980</text></g>
<g id="xF-ALDH10A8"><circle cx="1506" cy="695" r="17" class="cG"/><use href="#ball" x="1506" y="695"/><text x="1516" y="677">ALDH10A8</text></g>
<g id="xF-ELI3-2"><circle cx="1035" cy="730" r="17" class="cG"/><use href="#ball" x="1035" y="730"/><text x="1048" y="710">ELI3-2</text></g>
<g id="xF-AT2G43090"><circle cx="1170" cy="730" r="17" class="cG"/><use href="#ball" x="1170" y="730"/><text x="1175" y="708">AT2G43090</text></g>
<g id="xF-VHA-A"><circle cx="1306" cy="735" r="17" class="cG"/><use href="#ball" x="1306" y="735"/><text x="1319" y="721">VHA-A</text></g>
<g id="xF-VAB2"><circle cx="1399" cy="737" r="17" class="cG"/><use href="#ball" x="1399" y="737"/><text x="1412" y="721">VAB2</text></g>
</g>

<g id="nodes-x-carbo" class="nodes" transform="translate(0,1297)">
<g id="xC-OASC"><circle cx="1444" cy="192" r="17" class="cG"/><use href="#ball" x="1444" y="192"/><text x="1458" y="176">OASC</text></g>
<g id="xC-CNP60A"><circle cx="1152" cy="260" r="17" class="cG"/><use href="#ball" x="1152" y="260"/><text x="1160" y="240">CNP60A</text></g>
<g id="xC-PDIL1-1"><circle cx="1287" cy="253" r="17" class="cG"/><use href="#ball" x="1287" y="253"/><text x="1296" y="234">PDIL1-1</text></g>
<g id="xC-Cpn60beta2"><circle cx="1080" cy="307" r="17" class="cG"/><use href="#ball" x="1080" y="307"/><text x="1093" y="309">Cpn60beta2</text></g>
<g id="xC-APX1"><circle cx="1398" cy="307" r="17" class="cG"/><use href="#ball" x="1398" y="307"/><text x="1415" y="288">APX1</text></g>
<g id="xC-SAM-2"><circle cx="1513" cy="323" r="17" class="cG"/><use href="#ball" x="1513" y="323"/><text x="1533" y="303">SAM-2</text></g>
<g id="xC-MTHSC70-2"><circle cx="1189" cy="359" r="17" class="cG"/><use href="#ball" x="1189" y="359"/><text x="1198" y="339">MTHSC70-2</text></g>
<g id="xC-At3g24170"><circle cx="1353" cy="375" r="17" class="cG"/><use href="#ball" x="1353" y="375"/><text x="1364" y="356">At3g24170</text></g>
<g id="xC-PAF1"><circle cx="935" cy="474" r="17" class="cG"/><use href="#ball" x="935" y="474"/><text x="940" y="450">PAF1</text></g>
<g id="xC-MDH"><circle cx="1282" cy="464" r="17" class="cG"/><use href="#ball" x="1282" y="464"/><text x="1293" y="443">MDH</text></g>
<g id="xC-MDAR1"><circle cx="1457" cy="456" r="17" class="cG"/><use href="#ball" x="1457" y="456"/><text x="1469" y="438">MDAR1</text></g>
<g id="xC-AT4G02930"><circle cx="1087" cy="494" r="17" class="cG"/><use href="#ball" x="1087" y="494"/><text x="1088" y="472">AT4G02930</text></g>
<g id="xC-LOS2"><circle cx="1219" cy="550" r="17" class="cM"/><use href="#ball" x="1219" y="550"/><text x="1234" y="531">LOS2</text></g>
<g id="xC-GDH1"><circle cx="1387" cy="543" r="17" class="cG"/><use href="#ball" x="1387" y="543"/><text x="1401" y="526">GDH1</text></g>
<g id="xC-EMB1467"><circle cx="1284" cy="585" r="17" class="cM"/><use href="#ball" x="1284" y="585"/><text x="1278" y="561">EMB1467</text></g>
<g id="xC-cICDH"><circle cx="1406" cy="623" r="17" class="cG"/><use href="#ball" x="1406" y="623"/><text x="1423" y="607">cICDH</text></g>
<g id="xC-EIF4A11"><circle cx="1001" cy="633" r="17" class="cG"/><use href="#ball" x="1001" y="633"/><text x="1006" y="613">EIF4A11</text></g>
<g id="xC-AT1G51980"><circle cx="1122" cy="658" r="17" class="cG"/><use href="#ball" x="1122" y="658"/><text x="1129" y="640">AT1G51980</text></g>
<g id="xC-ALDH10A8"><circle cx="1506" cy="695" r="17" class="cG"/><use href="#ball" x="1506" y="695"/><text x="1516" y="677">ALDH10A8</text></g>
<g id="xC-ELI3-2"><circle cx="1035" cy="730" r="17" class="cG"/><use href="#ball" x="1035" y="730"/><text x="1048" y="710">ELI3-2</text></g>
<g id="xC-AT2G43090"><circle cx="1170" cy="730" r="17" class="cM"/><use href="#ball" x="1170" y="730"/><text x="1175" y="708">AT2G43090</text></g>
<g id="xC-VHA-A"><circle cx="1306" cy="735" r="17" class="cM"/><use href="#ball" x="1306" y="735"/><text x="1319" y="721">VHA-A</text></g>
<g id="xC-VAB2"><circle cx="1399" cy="737" r="17" class="cM"/><use href="#ball" x="1399" y="737"/><text x="1412" y="721">VAB2</text></g>
</g>

<g id="label-redox">
<rect class="box" x="623" y="134" width="395" height="72"/>
<text class="boxt" x="820" y="185" textLength="292" lengthAdjust="spacingAndGlyphs">REDOX PROCESSES</text>
</g>
<g id="label-folding">
<rect class="box" x="623" y="781" width="395" height="71"/>
<text class="boxt" x="820" y="832" textLength="330" lengthAdjust="spacingAndGlyphs">FOLDING-REFOLDING</text>
</g>
<g id="label-carbo">
<rect class="box" x="609" y="1436" width="421" height="116"/>
<text class="boxt" x="819" y="1486">CARBOHYDRATE</text>
<text class="boxt" x="819" y="1531">METABOLISM</text>
</g>
</svg>
